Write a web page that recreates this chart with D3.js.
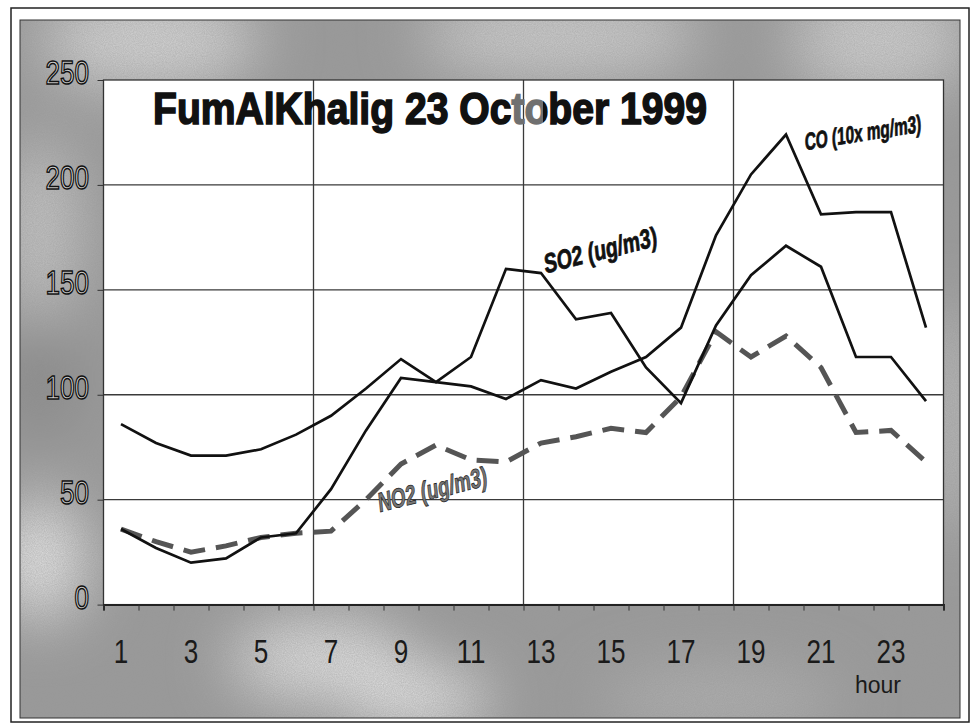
<!DOCTYPE html>
<html>
<head>
<meta charset="utf-8">
<script src="https://cdn.jsdelivr.net/npm/d3@7"></script>
<style>
  html, body { margin: 0; padding: 0; background: #fff; }
  svg { display: block; }
</style>
</head>
<body>
<div id="chart"></div>
<script>
// データ
const hours = d3.range(1, 25);
const hourLabels = [1, 3, 5, 7, 9, 11, 13, 15, 17, 19, 21, 23];
const yTicks = [0, 50, 100, 150, 200, 250];
const so2 = [86, 77, 71, 71, 74, 81, 90, 103, 117, 106, 118, 160, 158, 136, 139, 113, 96, 133, 157, 171, 161, 118, 118, 97];
const co = [36, 27, 20, 22, 32, 34, 55, 83, 108, 106, 104, 98, 107, 103, 111, 118, 132, 176, 205, 224, 186, 187, 187, 132];
const no2 = [36, 30, 25, 28, 32, 34, 35, 50, 67, 76, 69, 68, 77, 80, 84, 82, 99, 130, 118, 128, 113, 82, 83, 68];
const title = 'FumAlKhalig 23 October 1999';

// svg領域設定
const svgWidth = 974;
const svgHeight = 728;
const svg = d3.select('#chart')
  .append('svg')
  .attr('width', svgWidth)
  .attr('height', svgHeight);

const defs = svg.append('defs');

// 背景の雲っぽい模様
const blur = defs.append('filter').attr('id', 'blur')
  .attr('x', '-50%').attr('y', '-50%').attr('width', '200%').attr('height', '200%');
blur.append('feGaussianBlur').attr('stdDeviation', 30);

const noise = defs.append('filter').attr('id', 'noise');
noise.append('feTurbulence')
  .attr('type', 'fractalNoise')
  .attr('baseFrequency', 0.9)
  .attr('numOctaves', 2)
  .attr('seed', 3);
noise.append('feColorMatrix')
  .attr('type', 'matrix')
  .attr('values', '0 0 0 0 0.3  0 0 0 0 0.3  0 0 0 0 0.3  0 0 0 0.5 0');

const clip = defs.append('clipPath').attr('id', 'bgclip');
clip.append('rect').attr('x', 20).attr('y', 20).attr('width', 940).attr('height', 698);

// タイトルの "to" だけ灰色 (元画像のまま)
const tg = defs.append('linearGradient').attr('id', 'titlefill')
  .attr('gradientUnits', 'userSpaceOnUse')
  .attr('x1', 0).attr('x2', svgWidth).attr('y1', 0).attr('y2', 0);
[[0, '#111'], [511 / svgWidth, '#111'], [511 / svgWidth, '#707070'],
 [543 / svgWidth, '#707070'], [543 / svgWidth, '#111'], [1, '#111']]
  .forEach(([o, c]) => tg.append('stop').attr('offset', o).attr('stop-color', c));

// 外枠
svg.append('rect')
  .attr('x', 11).attr('y', 8)
  .attr('width', 958).attr('height', 714)
  .attr('fill', '#fff')
  .attr('stroke', '#222')
  .attr('stroke-width', 1.5);

const bg = svg.append('g').attr('clip-path', 'url(#bgclip)');
bg.append('rect')
  .attr('x', 20).attr('y', 20)
  .attr('width', 940).attr('height', 698)
  .attr('fill', '#9a9a9a');

const blobs = [
  { cx: 150, cy: 40, rx: 110, ry: 50, c: '#d8d8d8' },
  { cx: 560, cy: 35, rx: 140, ry: 45, c: '#d0d0d0' },
  { cx: 880, cy: 40, rx: 90, ry: 60, c: '#cfcfcf' },
  { cx: 40, cy: 230, rx: 40, ry: 90, c: '#c8c8c8' },
  { cx: 40, cy: 560, rx: 45, ry: 60, c: '#eeeeee' },
  { cx: 320, cy: 660, rx: 90, ry: 40, c: '#e6e6e6' },
  { cx: 420, cy: 700, rx: 70, ry: 30, c: '#f0f0f0' },
  { cx: 950, cy: 420, rx: 20, ry: 120, c: '#cccccc' },
  { cx: 720, cy: 700, rx: 120, ry: 30, c: '#b4b4b4' },
  { cx: 40, cy: 380, rx: 40, ry: 60, c: '#888' }
];
bg.append('g')
  .attr('filter', 'url(#blur)')
  .selectAll('ellipse')
  .data(blobs)
  .join('ellipse')
  .attr('cx', d => d.cx).attr('cy', d => d.cy)
  .attr('rx', d => d.rx).attr('ry', d => d.ry)
  .attr('fill', d => d.c);
bg.append('rect')
  .attr('x', 20).attr('y', 20)
  .attr('width', 940).attr('height', 698)
  .attr('filter', 'url(#noise)');
svg.append('rect')
  .attr('x', 20).attr('y', 20)
  .attr('width', 940).attr('height', 698)
  .attr('fill', 'none')
  .attr('stroke', '#333')
  .attr('stroke-width', 1);

// グラフ領域設定
const plot = { left: 103.5, right: 943.5, top: 80, bottom: 604.6 };

// scale設定
const x = d3.scaleLinear().domain([0.5, 24.5]).range([plot.left, plot.right]);
const y = d3.scaleLinear().domain([0, 250]).range([plot.bottom, plot.top]);

svg.append('rect')
  .attr('x', plot.left).attr('y', plot.top)
  .attr('width', plot.right - plot.left)
  .attr('height', plot.bottom - plot.top)
  .attr('fill', '#fff');

// グリッド線
svg.append('g')
  .selectAll('line')
  .data(yTicks.filter(v => v > 0 && v < 250))
  .join('line')
  .attr('x1', plot.left).attr('x2', plot.right)
  .attr('y1', d => y(d)).attr('y2', d => y(d))
  .attr('stroke', '#3a3a3a')
  .attr('stroke-width', 1.3);

svg.append('g')
  .selectAll('line')
  .data([6.5, 12.5, 18.5])
  .join('line')
  .attr('x1', d => x(d)).attr('x2', d => x(d))
  .attr('y1', plot.top).attr('y2', plot.bottom)
  .attr('stroke', '#3a3a3a')
  .attr('stroke-width', 1.3);

// タイトル
svg.append('text')
  .attr('x', 153)
  .attr('y', 124)
  .attr('font-family', '"Liberation Sans", Arial, sans-serif')
  .attr('font-weight', 'bold')
  .attr('font-size', 45)
  .attr('fill', 'url(#titlefill)')
  .attr('stroke', 'url(#titlefill)')
  .attr('stroke-width', 1.6)
  .attr('textLength', 554)
  .attr('lengthAdjust', 'spacingAndGlyphs')
  .text(title);

// 線
const line = d3.line()
  .x((d, i) => x(hours[i]))
  .y(d => y(d));

svg.append('path')
  .datum(no2)
  .attr('d', line)
  .attr('fill', 'none')
  .attr('stroke', '#555')
  .attr('stroke-width', 5)
  .attr('stroke-dasharray', '22,11');

[so2, co].forEach(series => {
  svg.append('path')
    .datum(series)
    .attr('d', line)
    .attr('fill', 'none')
    .attr('stroke', '#111')
    .attr('stroke-width', 2.7)
    .attr('stroke-linejoin', 'miter');
});

// 系列ラベル
const seriesLabels = [
  { text: 'SO2 (ug/m3)', hour: 14.7, value: 169, angle: -14, len: 116, size: 27, fill: '#111', stroke: '#111' },
  { text: 'CO (10x mg/m3)', hour: 22.2, value: 225, angle: -9, len: 118, size: 24, fill: '#111', stroke: '#111' },
  { text: 'NO2 (ug/m3)', hour: 9.9, value: 55, angle: -14, len: 112, size: 27, fill: '#777', stroke: '#222' }
];
svg.append('g')
  .selectAll('text')
  .data(seriesLabels)
  .join('text')
  .attr('transform', d => `translate(${x(d.hour)},${y(d.value)}) rotate(${d.angle}) skewX(-8)`)
  .attr('text-anchor', 'middle')
  .attr('dy', '0.35em')
  .attr('font-family', '"Liberation Sans", Arial, sans-serif')
  .attr('font-weight', 'bold')
  .attr('font-size', d => d.size)
  .attr('fill', d => d.fill)
  .attr('stroke', d => d.stroke)
  .attr('stroke-width', 0.8)
  .attr('textLength', d => d.len)
  .attr('lengthAdjust', 'spacingAndGlyphs')
  .text(d => d.text);

// 枠線
svg.append('rect')
  .attr('x', plot.left).attr('y', plot.top)
  .attr('width', plot.right - plot.left)
  .attr('height', plot.bottom - plot.top)
  .attr('fill', 'none')
  .attr('stroke', '#333')
  .attr('stroke-width', 1.3);

// x軸
const xAxis = svg.append('g')
  .attr('transform', `translate(0,${plot.bottom})`)
  .call(d3.axisBottom(x)
    .tickValues(d3.range(0.5, 25, 1))
    .tickSize(6)
    .tickFormat(''));
xAxis.select('.domain').attr('stroke', '#222').attr('stroke-width', 2);
xAxis.selectAll('.tick line').attr('stroke', '#333');

svg.append('g')
  .selectAll('text')
  .data(hourLabels)
  .join('text')
  .attr('x', d => x(d))
  .attr('y', 663)
  .attr('text-anchor', 'middle')
  .attr('font-family', '"Liberation Sans", Arial, sans-serif')
  .attr('font-size', 33)
  .attr('fill', '#1a1a1a')
  .attr('textLength', d => String(d).length * 14.5)
  .attr('lengthAdjust', 'spacingAndGlyphs')
  .text(d => d);

svg.append('text')
  .attr('x', 878)
  .attr('y', 693)
  .attr('text-anchor', 'middle')
  .attr('font-family', '"Liberation Sans", Arial, sans-serif')
  .attr('font-size', 23)
  .attr('fill', '#1a1a1a')
  .text('hour');

// y軸
const yAxis = svg.append('g')
  .attr('transform', `translate(${plot.left},0)`)
  .call(d3.axisLeft(y).tickValues(yTicks).tickSize(6).tickFormat(''));
yAxis.select('.domain').remove();
yAxis.selectAll('.tick line').attr('stroke', '#333');

svg.append('g')
  .selectAll('text')
  .data(yTicks)
  .join('text')
  .attr('x', 89)
  .attr('y', d => y(d) + 4)
  .attr('text-anchor', 'end')
  .attr('font-family', '"Liberation Sans", Arial, sans-serif')
  .attr('font-size', 34)
  .attr('fill', '#d4d4d4')
  .attr('stroke', '#111')
  .attr('stroke-width', 1.5)
  .attr('textLength', d => String(d).length * 14.5)
  .attr('lengthAdjust', 'spacingAndGlyphs')
  .text(d => d);
</script>
</body>
</html>
